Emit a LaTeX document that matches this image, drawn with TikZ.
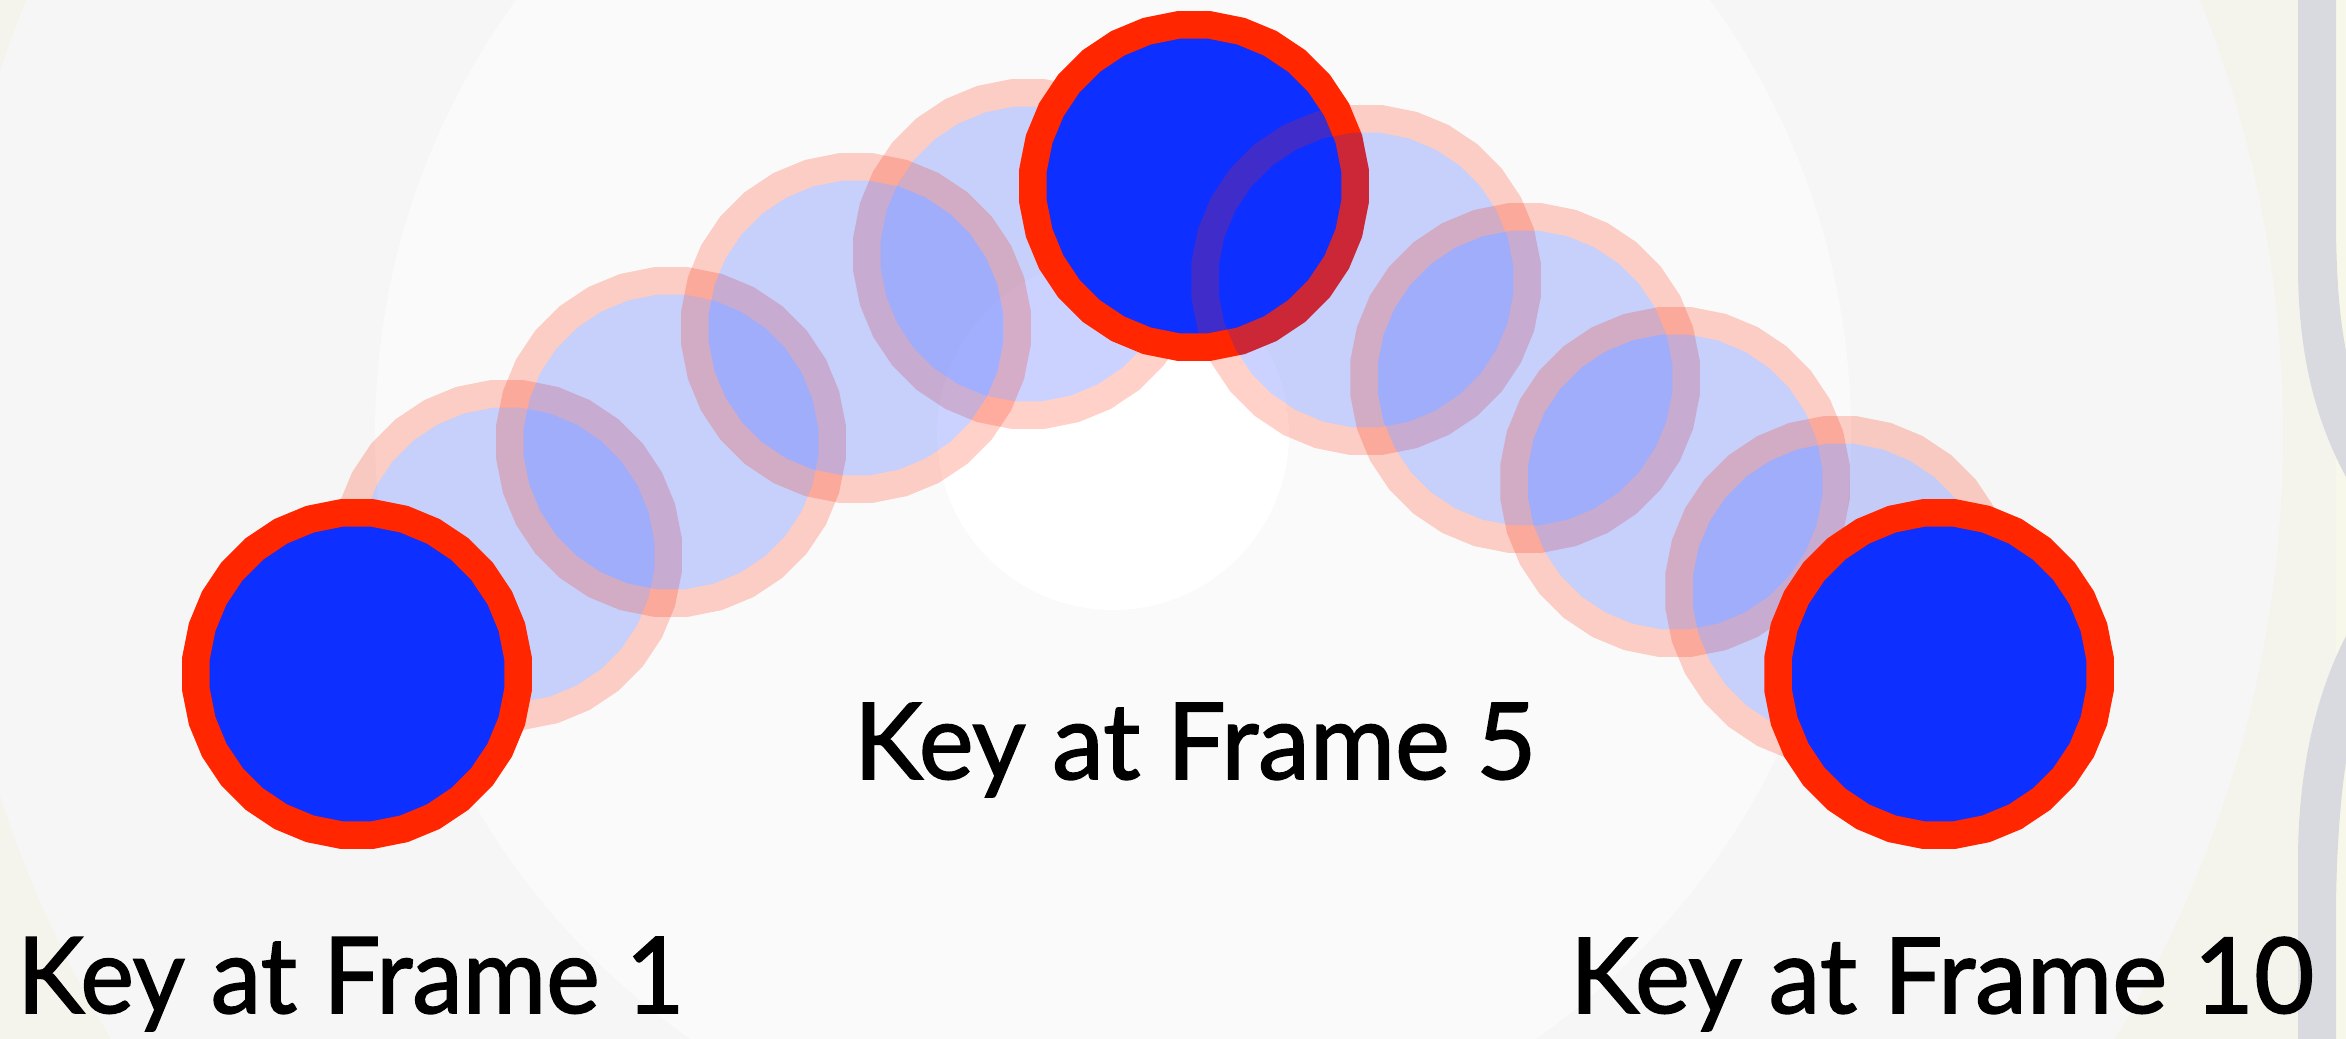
\documentclass[tikz,border=0pt]{standalone}
\usepackage{fontspec}
\setmainfont{Lato}[FakeBold=1.5]
\usetikzlibrary{shapes.geometric}

\definecolor{keyblue}{RGB}{13,47,255}
\definecolor{keyred}{RGB}{255,38,0}
\definecolor{bgouter}{RGB}{244,244,236}
\definecolor{bgmid}{RGB}{246,246,246}
\definecolor{bginner}{RGB}{250,250,250}
\definecolor{edgebar}{RGB}{217,217,224}
\definecolor{edgelight}{RGB}{248,248,234}

% scale a caption to a given width and a cap height of 76pt
\newcommand{\fitcaption}[2]{\resizebox{#1}{76pt}{#2}}

\begin{document}
\begin{tikzpicture}[x=1pt,y=-1pt,
  keyshape/.style={regular polygon, regular polygon sides=32,
    minimum size=323.6pt, inner sep=0pt, outer sep=0pt,
    draw=keyred, fill=keyblue, line width=27.5pt},
  framelabel/.style={anchor=base west, inner sep=0pt, outer sep=0pt, text=black}]

% backdrop with a stepped radial glow
\useasboundingbox (0,0) rectangle (2346,1039);
\fill[bgouter] (0,0) rectangle (2346,1039);
\begin{scope}
  \clip (0,0) rectangle (2346,1039);
  \fill[bgmid] (1113,434) circle[radius=1170];
  \fill[bginner] (1113,434) circle[radius=738];
  \fill[white] (1113,434) circle[radius=176];
\end{scope}

% edge of the neighbouring panel on the right
\fill[edgelight] (2336,0) rectangle (2346,1039);
\fill[edgebar] (2298,0) -- (2298,265)
  .. controls (2298,360) and (2318,425) .. (2346,477)
  -- (2346,351)
  .. controls (2340,320) and (2336,280) .. (2336,219)
  -- (2336,0) -- cycle;
\fill[edgebar] (2298,1039) -- (2298,861)
  .. controls (2298,765) and (2318,690) .. (2346,636)
  -- (2346,762)
  .. controls (2340,800) and (2336,860) .. (2336,914)
  -- (2336,1039) -- cycle;

% in-between frames, first half
\begin{scope}[transparency group, opacity=0.21]
  \node[keyshape] (g2) at (507,555) {};
\end{scope}
\begin{scope}[transparency group, opacity=0.21]
  \node[keyshape] (g3) at (671,442) {};
\end{scope}
\begin{scope}[transparency group, opacity=0.21]
  \node[keyshape] (g4) at (1028,254) {};
\end{scope}
\begin{scope}[transparency group, opacity=0.21]
  \node[keyshape] (g3b) at (856,328) {};
\end{scope}

% keys at frames 1 and 5
\node[keyshape] (k1) at (357,674) {};
\node[keyshape] (k5) at (1194,186) {};

% in-between frames, second half
\begin{scope}[transparency group, opacity=0.21]
  \node[keyshape] (g6) at (1366,280) {};
\end{scope}
\begin{scope}[transparency group, opacity=0.21]
  \node[keyshape] (g7) at (1525,378) {};
\end{scope}
\begin{scope}[transparency group, opacity=0.21]
  \node[keyshape] (g8) at (1675,482) {};
\end{scope}
\begin{scope}[transparency group, opacity=0.21]
  \node[keyshape] (g9) at (1840,591) {};
\end{scope}

% key at frame 10
\node[keyshape] (k10) at (1939,674) {};

% captions
\node[framelabel] (l1) at (17,1013) {\fitcaption{667pt}{Key at Frame 1}};
\node[framelabel] (l5) at (854,779) {\fitcaption{682pt}{Key at Frame 5}};
\node[framelabel] (l10) at (1570,1013) {\fitcaption{744pt}{Key at Frame 10}};
\end{tikzpicture}
\end{document}
